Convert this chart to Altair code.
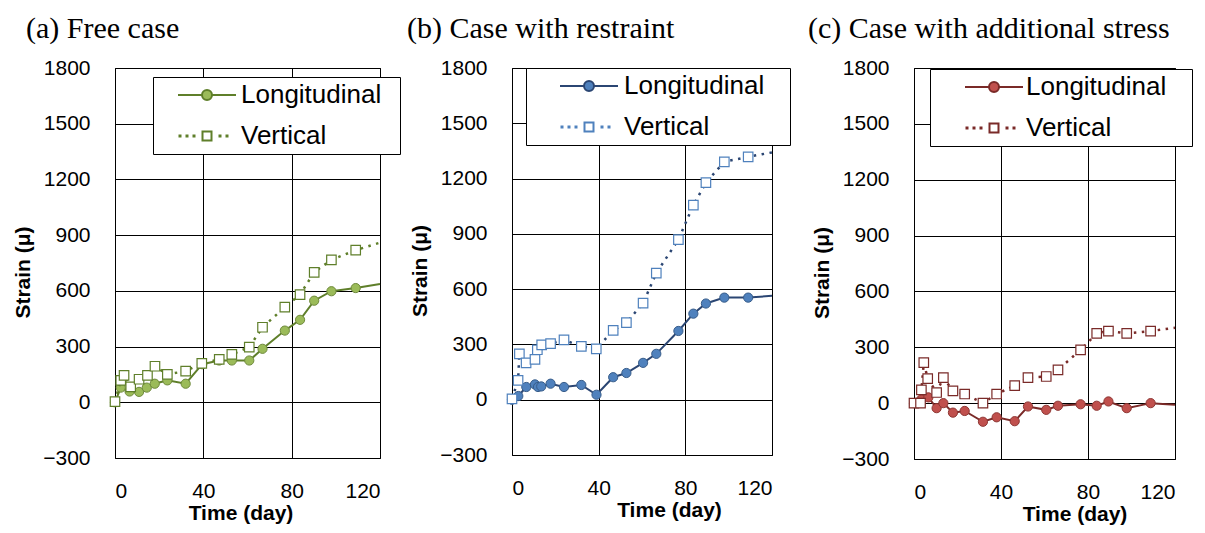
import altair as alt
import pandas as pd

# ---------------- data ----------------
# (a) Free case
a_long_day = [0, 2.6, 6.6, 10.9, 14.4, 18.0, 23.7, 32.0, 39.5, 47.2, 52.9, 60.8, 66.8, 76.9, 83.8, 90.2, 98.0, 109.0, 120.0]
a_long_val = [0, 79, 58, 56, 79, 100, 118, 100, 205, 225, 225, 225, 288, 386, 444, 547, 598, 615, 637]
a_vert_day = [0, 2.6, 4.1, 7.1, 10.9, 14.7, 18.1, 23.7, 32.0, 39.3, 47.2, 52.9, 60.8, 66.8, 76.9, 83.8, 90.2, 98.0, 109.0, 120.0]
a_vert_val = [4, 118, 145, 83, 124, 145, 194, 150, 168, 210, 231, 258, 297, 404, 512, 580, 700, 767, 819, 860]

# (b) Case with restraint
b_long_day = [0, 2.9, 6.6, 10.6, 12.0, 13.5, 17.8, 24.0, 32.0, 39.0, 46.7, 52.8, 60.5, 66.6, 76.8, 83.7, 89.5, 98.0, 109.0, 120.0]
b_long_val = [0, 20, 69, 83, 69, 72, 87, 69, 80, 27, 122, 145, 200, 249, 373, 467, 522, 554, 554, 564]
b_vert_day = [0, 2.8, 3.4, 6.5, 10.6, 11.7, 13.7, 17.8, 24.0, 32.0, 38.9, 46.7, 52.8, 60.5, 66.6, 76.8, 83.7, 89.5, 98.0, 109.0, 120.0]
b_vert_val = [5, 105, 249, 200, 219, 271, 298, 304, 325, 289, 276, 376, 418, 524, 687, 869, 1056, 1178, 1291, 1318, 1342]

# (c) Case with additional stress
c_long_day = [0, 3.4, 6.6, 10.4, 13.5, 17.9, 23.3, 31.7, 38.0, 46.3, 52.4, 60.8, 66.2, 76.6, 84.0, 89.4, 97.8, 108.8, 120.0]
c_long_val = [0, 20, 31, -27, 0, -51, -42, -100, -76, -97, -18, -36, -14, -6, -14, 9, -27, 0, -9]
c_vert_day = [0, 3.0, 3.4, 4.5, 6.3, 10.4, 13.5, 17.9, 23.3, 31.7, 38.0, 46.3, 52.4, 60.8, 66.2, 76.6, 84.0, 89.4, 97.8, 108.8, 120.0]
c_vert_val = [0, 0, 71, 218, 132, 57, 137, 66, 49, 0, 49, 94, 137, 143, 179, 286, 375, 387, 375, 387, 405]

series_names = ["Longitudinal", "Vertical"]
x_ticks = [0, 40, 80, 120]
y_ticks = [-300, 0, 300, 600, 900, 1200, 1500, 1800]

SANS = "Liberation Sans"
SERIF = "Liberation Serif"


# legend symbols (custom paths, unit = sqrt(symbolSize)/2 = 10 px);
# a trailing bare move-to widens the legend frame to the right like the original
def legend_paths(ext):
    tail = f"M{ext},0"
    long_p = ("M-2.9,0L-0.5,0M0.5,0L2.9,0"
              "M0.5,0A0.5,0.5,0,1,1,-0.5,0A0.5,0.5,0,1,1,0.5,0Z" + tail)
    h = 0.05
    dots = "".join(f"M{c-h},{-h}L{c+h},{-h}L{c+h},{h}L{c-h},{h}Z" for c in [-2.7, -2.0, -1.3, 1.3, 2.0])
    vert_p = dots + "M-0.45,-0.45L0.45,-0.45L0.45,0.45L-0.45,0.45Z" + tail
    return [long_p, vert_p]


def make_panel(long_day, long_val, vert_day, vert_val, title, title_dx,
               line_c, circ_fill, circ_stroke, sq_stroke,
               width, height, leg_x, leg_y, sym_off, lab_off, ext, xtitle_shift):
    rows = []
    for d, v in zip(long_day, long_val):
        rows.append({"series": series_names[0], "day": d, "value": v})
    for d, v in zip(vert_day, vert_val):
        rows.append({"series": series_names[1], "day": d, "value": v})
    df = pd.DataFrame(rows)

    base = alt.Chart(df)
    x = alt.X("day:Q", scale=alt.Scale(domain=[0, 120], nice=False, zero=False),
              axis=alt.Axis(values=x_ticks, title="Time (day)", labelPadding=22,
                            titlePadding=1, titleX=width / 2 + xtitle_shift))
    y = alt.Y("value:Q", scale=alt.Scale(domain=[-300, 1800], nice=False),
              axis=alt.Axis(values=y_ticks, format="d", title="Strain (μ)", labelPadding=25,
                            titlePadding=9, titleY=height / 2 + 9))

    long_f = alt.datum.series == series_names[0]
    vert_f = alt.datum.series == series_names[1]
    mk = alt.datum.day < 120

    l_line = base.transform_filter(long_f).mark_line(color=line_c, strokeWidth=2).encode(x=x, y=y)
    l_pts = base.transform_filter(long_f).transform_filter(mk).mark_point(
        shape="circle", size=85, filled=True, fill=circ_fill, stroke=circ_stroke,
        strokeWidth=1, opacity=1).encode(x="day:Q", y="value:Q")
    v_line = base.transform_filter(vert_f).mark_line(
        color=line_c, strokeWidth=2.5, strokeDash=[2.5, 5.5]).encode(x="day:Q", y="value:Q")
    v_pts = base.transform_filter(vert_f).transform_filter(mk).mark_point(
        shape="square", size=90, filled=True, fill="white", stroke=sq_stroke,
        strokeWidth=1.2, opacity=1).encode(x="day:Q", y="value:Q")

    leg = alt.Legend(
        title=None, orient="none", legendX=leg_x, legendY=leg_y, direction="vertical",
        padding=5, strokeColor="black", fillColor="white", cornerRadius=0,
        labelFont=SANS, labelFontSize=26, labelColor="black",
        symbolSize=400, symbolStrokeWidth=2, symbolOpacity=1,
        symbolOffset=sym_off, labelOffset=lab_off, rowPadding=15,
    )
    dom = series_names
    carrier = base.transform_filter("datum.day > 100000").mark_point(
        filled=False, strokeWidth=2, opacity=1).encode(
        x="day:Q", y="value:Q",
        shape=alt.Shape("series:N", scale=alt.Scale(domain=dom, range=legend_paths(ext)), legend=leg),
        fill=alt.Fill("series:N", scale=alt.Scale(domain=dom, range=[circ_fill, "white"]), legend=leg),
        stroke=alt.Stroke("series:N", scale=alt.Scale(domain=dom, range=[line_c, sq_stroke]), legend=leg),
    )

    return alt.layer(l_line, l_pts, v_line, v_pts, carrier).properties(
        width=width, height=height,
        title=alt.TitleParams(title, anchor="start", frame="group", dx=title_dx,
                              font=SERIF, fontSize=30, fontWeight="normal",
                              color="black", offset=13),
    )


pa = make_panel(a_long_day, a_long_val, a_vert_day, a_vert_val, "(a) Free case", -89,
                "#5F7F2A", "#9BBB59", "#6F8A3C", "#5F7F2A", 265, 390,
                38, 9, 36, 21, 18.4, -7)
pb = make_panel(b_long_day, b_long_val, b_vert_day, b_vert_val, "(b) Case with restraint", -105,
                "#2B4673", "#4F81BD", "#385D8A", "#4F81BD", 260, 387,
                14, 0, 45, 22, 19.2, 27)
pc = make_panel(c_long_day, c_long_val, c_vert_day, c_vert_val, "(c) Case with additional stress", -106,
                "#7A2A28", "#C0504D", "#8E3734", "#7A2A28", 261, 391,
                16, 1, 46, 19, 18.9, 30)

ind = dict(fill="independent", shape="independent", stroke="independent")

inner = alt.hconcat(pb, pc, spacing=142, bounds="flush").resolve_scale(**ind).resolve_legend(**ind)

chart = alt.hconcat(pa, inner, spacing=132, bounds="flush").resolve_scale(**ind).resolve_legend(
    **ind).properties(
    padding={"left": 4, "top": 5, "right": 0, "bottom": 0}
).configure_axis(
    grid=True, gridColor="black", gridWidth=1, gridOpacity=1,
    domain=False, ticks=False,
    labelFont=SANS, labelFontSize=21, labelColor="black",
    titleFont=SANS, titleFontSize=21, titleFontWeight="bold", titleColor="black",
).configure_view(stroke="black", strokeWidth=1)

chart.save("out.html", embed_options={"renderer": "svg", "actions": False})
